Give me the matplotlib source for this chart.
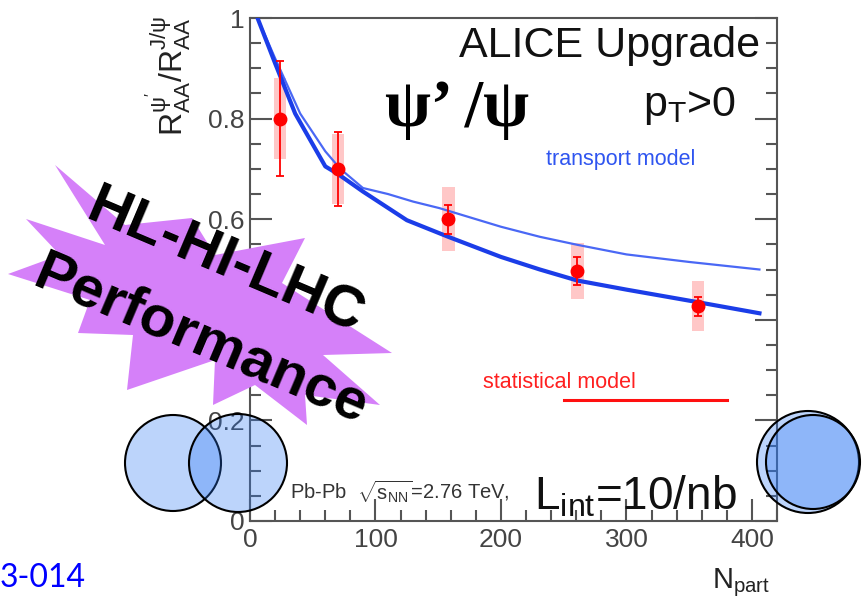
import matplotlib
matplotlib.use("Agg")
import matplotlib.pyplot as plt
from matplotlib.patches import Polygon, Circle, Rectangle
from matplotlib.ticker import MultipleLocator, FixedLocator, FixedFormatter

# ---- data ----
npart = [24, 70, 158, 261, 357]
ratio = [0.80, 0.70, 0.60, 0.497, 0.427]
stat_err = [0.115, 0.073, 0.029, 0.028, 0.019]
sys_err = [0.08, 0.07, 0.064, 0.056, 0.05]

thin_x = [6, 20, 40, 60, 72, 90, 110, 130, 151, 200, 231, 261, 300, 350, 406]
thin_y = [1.0, 0.92, 0.81, 0.735, 0.70, 0.662, 0.65, 0.635, 0.622, 0.585, 0.565, 0.549, 0.53, 0.515, 0.50]
thick_x = [6, 20, 36, 60, 70, 90, 125, 158, 200, 231, 261, 300, 357, 406]
thick_y = [1.0, 0.91, 0.81, 0.705, 0.69, 0.655, 0.598, 0.565, 0.525, 0.50, 0.478, 0.46, 0.435, 0.413]

stat_model_x = [250, 380]
stat_model_y = [0.24, 0.24]

yticks = [0, 0.2, 0.4, 0.6, 0.8, 1.0]
ytick_labels = ["0", "0.2", "0.4", "0.6", "0.8", "1"]
xticks = [0, 100, 200, 300, 400]
xtick_labels = ["0", "100", "200", "300", "400"]

plt.rcParams['font.family'] = ['Liberation Sans', 'DejaVu Sans']
plt.rcParams['mathtext.fontset'] = 'custom'
plt.rcParams['mathtext.rm'] = 'Liberation Sans'
plt.rcParams['mathtext.it'] = 'Liberation Sans'
plt.rcParams['mathtext.bf'] = 'Liberation Sans:bold'

W, H = 866, 599
fig = plt.figure(figsize=(W / 100, H / 100), dpi=100)
ax = fig.add_axes([250 / W, 1 - 521 / H, 527 / W, 503 / H])

ax.set_xlim(0, 420)
ax.set_ylim(0, 1.0)

frame_col = '#555555'
tick_col = '#444444'
for s in ax.spines.values():
    s.set_color(frame_col)
    s.set_linewidth(1.5)

ax.xaxis.set_major_locator(FixedLocator(xticks))
ax.xaxis.set_major_formatter(FixedFormatter(xtick_labels))
ax.xaxis.set_minor_locator(MultipleLocator(20))
ax.yaxis.set_major_locator(FixedLocator(yticks))
ax.yaxis.set_major_formatter(FixedFormatter(ytick_labels))
ax.yaxis.set_minor_locator(MultipleLocator(0.05))
ax.tick_params(which='both', direction='in', colors=frame_col, labelcolor=tick_col,
               labelsize=19, top=False, right=True, width=1.5)
ax.tick_params(which='major', length=16)
ax.tick_params(which='minor', length=8)
ax.tick_params(axis='x', which='major', pad=5)
ax.tick_params(axis='y', which='major', pad=4)

# systematic boxes
for x, y, s in zip(npart, ratio, sys_err):
    ax.add_patch(Rectangle((x - 5, y - s), 10, 2 * s, facecolor='#ff0000', alpha=0.22,
                           edgecolor='none', zorder=2))

# transport model
ax.plot(thin_x, thin_y, color='#4a68f5', lw=1.6, zorder=3)
ax.plot(thick_x, thick_y, color='#1b3de8', lw=3.0, zorder=3)

# stat model
ax.plot(stat_model_x, stat_model_y, color='#ff1010', lw=2.2, zorder=3)

# data points
ax.errorbar(npart, ratio, yerr=stat_err, fmt='o', color='#ff0000', ms=9,
            elinewidth=1.3, capsize=3, capthick=1.3, zorder=4)

ax.set_ylabel(r"$\mathregular{R^{\psi'}_{AA}/R^{J/\psi}_{AA}}$", fontsize=23, color='#222222')
ax.yaxis.set_label_coords(-0.106, 0.885)
ax.set_xlabel(r"$\mathregular{N_{part}}$", fontsize=21, color='#222222')
ax.xaxis.set_label_coords(0.932, -0.09)

# ---- overlay in pixel coordinates ----
ov = fig.add_axes([0, 0, 1, 1], zorder=10)
ov.set_xlim(0, W)
ov.set_ylim(H, 0)
ov.axis('off')

ov.text(610, 46, 'ALICE Upgrade', fontsize=31, ha='center', va='center', color='#111111')
ov.text(690, 106, r'p$_\mathregular{T}$>0', fontsize=31, ha='center', va='center', color='#111111')
ov.text(457, 110, "ψ’ /ψ", fontsize=48, fontweight='bold', ha='center', va='center', color='black',
        family=['Liberation Serif', 'DejaVu Serif'])
ov.text(621, 160, 'transport model', fontsize=15.5, ha='center', va='center', color='#2f55f0')
ov.text(559, 383, 'statistical model', fontsize=15.5, ha='center', va='center', color='#ff2020')
ov.text(635, 497, r'L$_\mathregular{int}$=10/nb', fontsize=33, ha='center', va='center', color='#111111')
ov.text(400, 492, r'Pb-Pb  $\mathregular{\sqrt{s_{NN}}}$=2.76 TeV,', fontsize=14.5, ha='center',
        va='center', color='#333333')
ov.text(0, 578, '3-014', fontsize=23, ha='left', va='center', color='#0000ff',
        family=['Lato', 'DejaVu Sans'])

# starburst
star = [(55, 165), (125, 225), (192, 218), (215, 255), (305, 238), (282, 283),
        (392, 353), (323, 355), (380, 405), (305, 395), (307, 425), (255, 385),
        (213, 405), (215, 360), (127, 390), (133, 335), (78, 333), (90, 300),
        (8, 274), (60, 255), (26, 219), (105, 245)]
ov.add_patch(Polygon(star, closed=True, facecolor='#d580f9', edgecolor='none'))
ov.text(225, 262, 'HL-HI-LHC', fontsize=42, fontweight='bold', rotation=-23,
        rotation_mode='anchor', ha='center', va='center', color='black')
ov.text(200, 340, 'Performance', fontsize=42, fontweight='bold', rotation=-23,
        rotation_mode='anchor', ha='center', va='center', color='black')

circ_col = (41 / 255, 118 / 255, 245 / 255, 0.31)
for (cx, cy, r) in [(173, 463, 48), (238, 463, 49), (808, 462, 51), (813, 462, 47)]:
    ov.add_patch(Circle((cx, cy), r, facecolor=circ_col, edgecolor='none'))
    ov.add_patch(Circle((cx, cy), r, facecolor='none', edgecolor='black', lw=1.5))

fig.savefig('out.png', dpi=100)
